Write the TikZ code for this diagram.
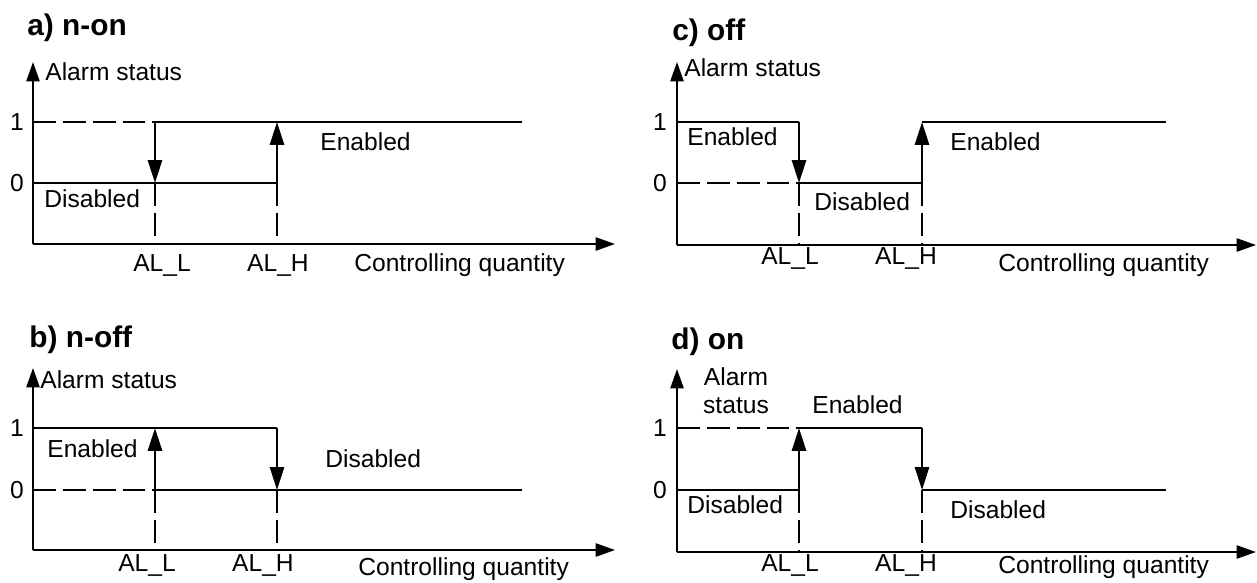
\documentclass[tikz,border=0pt]{standalone}
\usepackage{fontspec}
\setmainfont{Liberation Sans}
\usetikzlibrary{arrows.meta}
\usetikzlibrary{positioning}

\tikzset{
  axis/.style={line width=1.1pt,-{Triangle[length=11pt,width=7.5pt]}},
  level/.style={line width=1.4pt},
  guide/.style={line width=1.1pt,dash pattern=on 13pt off 4pt},
  jump/.style={line width=1.4pt,-{Triangle[length=13pt,width=8pt]}},
  lbl/.style={font=\fontsize{14}{16}\selectfont,inner sep=0pt},
  ttl/.style={font=\fontsize{17}{20}\selectfont\bfseries,inner sep=0pt,anchor=west},
}

\begin{document}
\begin{tikzpicture}[x=0.02cm,y=-0.02cm]
    \useasboundingbox (0,0) rectangle (1257,582);

    %%% a) n-on %%%
    \node[ttl] (titleA) at (27,28) {a) n-on};
    % Axes
    \draw[axis] (33,244) -- (33,62);
    \draw[axis] (33,244) -- (615,244);
    \node[lbl,anchor=west] (statusA) at (45,72) {Alarm status};
    \node[lbl] (oneA) at (17,122) {1};
    \node[lbl] (zeroA) at (17,183) {0};
    % Levels
    \draw[guide] (33,122) -- (155,122);
    \draw[level] (155,122) -- (522,122);
    \draw[level] (33,183) -- (277,183);
    % Switching points
    \draw[jump] (155,122) -- (155,183); % AL_L
    \draw[jump] (277,183) -- (277,122); % AL_H
    \draw[guide] (155,183) -- (155,244);
    \draw[guide] (277,183) -- (277,244);
    % Texts
    \node[lbl,anchor=west] (enA) at (320,142) {Enabled};
    \node[lbl,anchor=west] (disA) at (44,199) {Disabled};
    \node[lbl] (alLA) at (162,265) {AL\_L};
    \node[lbl] (alHA) at (278,265) {AL\_H};
    \node[lbl,anchor=west] (qtyA) at (354,265) {Controlling quantity};

    %%% b) n-off %%%
    \node[ttl] (titleB) at (29,340) {b) n-off};
    % Axes
    \draw[axis] (33,550) -- (33,368);
    \draw[axis] (33,550) -- (615,550);
    \node[lbl,anchor=west] (statusB) at (40,380) {Alarm status};
    \node[lbl] (oneB) at (17,428) {1};
    \node[lbl] (zeroB) at (17,490) {0};
    % Levels
    \draw[level] (33,428) -- (277,428);
    \draw[guide] (33,490) -- (155,490);
    \draw[level] (155,490) -- (522,490);
    % Switching points
    \draw[jump] (155,490) -- (155,428); % AL_L
    \draw[jump] (277,428) -- (277,490); % AL_H
    \draw[guide] (155,490) -- (155,550);
    \draw[guide] (277,490) -- (277,550);
    % Texts
    \node[lbl,anchor=west] (enB) at (47,449) {Enabled};
    \node[lbl,anchor=west] (disB) at (325,459) {Disabled};
    \node[lbl] (alLB) at (147,565) {AL\_L};
    \node[lbl] (alHB) at (263,565) {AL\_H};
    \node[lbl,anchor=west] (qtyB) at (358,569) {Controlling quantity};

    %%% c) off %%%
    \node[ttl] (titleC) at (672,33) {c) off};
    % Axes
    \draw[axis] (677,245) -- (677,62);
    \draw[axis] (677,245) -- (1256,245);
    \node[lbl,anchor=west] (statusC) at (684,68) {Alarm status};
    \node[lbl] (oneC) at (660,122) {1};
    \node[lbl] (zeroC) at (660,183) {0};
    % Levels
    \draw[level] (677,122) -- (799,122);
    \draw[guide] (677,183) -- (799,183);
    \draw[level] (799,183) -- (922,183);
    \draw[level] (922,122) -- (1166,122);
    % Switching points
    \draw[jump] (799,122) -- (799,183); % AL_L
    \draw[jump] (922,183) -- (922,122); % AL_H
    \draw[guide] (799,183) -- (799,245);
    \draw[guide] (922,183) -- (922,245);
    % Texts
    \node[lbl,anchor=west] (enC) at (687,137) {Enabled};
    \node[lbl,anchor=west] (disC) at (814,202) {Disabled};
    \node[lbl,anchor=west] (enC2) at (950,142) {Enabled};
    \node[lbl] (alLC) at (790,258) {AL\_L};
    \node[lbl] (alHC) at (906,258) {AL\_H};
    \node[lbl,anchor=west] (qtyC) at (998,265) {Controlling quantity};

    %%% d) on %%%
    \node[ttl] (titleD) at (671,342) {d) on};
    % Axes
    \draw[axis] (677,552) -- (677,369);
    \draw[axis] (677,552) -- (1256,552);
    \node[lbl,align=center] (statusD) at (736,391) {Alarm\\status};
    \node[lbl] (oneD) at (660,428) {1};
    \node[lbl] (zeroD) at (660,490) {0};
    % Levels
    \draw[guide] (677,428) -- (799,428);
    \draw[level] (799,428) -- (922,428);
    \draw[level] (677,490) -- (799,490);
    \draw[level] (922,490) -- (1166,490);
    % Switching points
    \draw[jump] (799,490) -- (799,428); % AL_L
    \draw[jump] (922,428) -- (922,490); % AL_H
    \draw[guide] (799,490) -- (799,552);
    \draw[guide] (922,490) -- (922,552);
    % Texts
    \node[lbl,anchor=west] (enD) at (812,405) {Enabled};
    \node[lbl,anchor=west] (disD) at (687,505) {Disabled};
    \node[lbl,anchor=west] (disD2) at (950,510) {Disabled};
    \node[lbl] (alLD) at (790,565) {AL\_L};
    \node[lbl] (alHD) at (906,565) {AL\_H};
    \node[lbl,anchor=west] (qtyD) at (998,567) {Controlling quantity};
\end{tikzpicture}
\end{document}
